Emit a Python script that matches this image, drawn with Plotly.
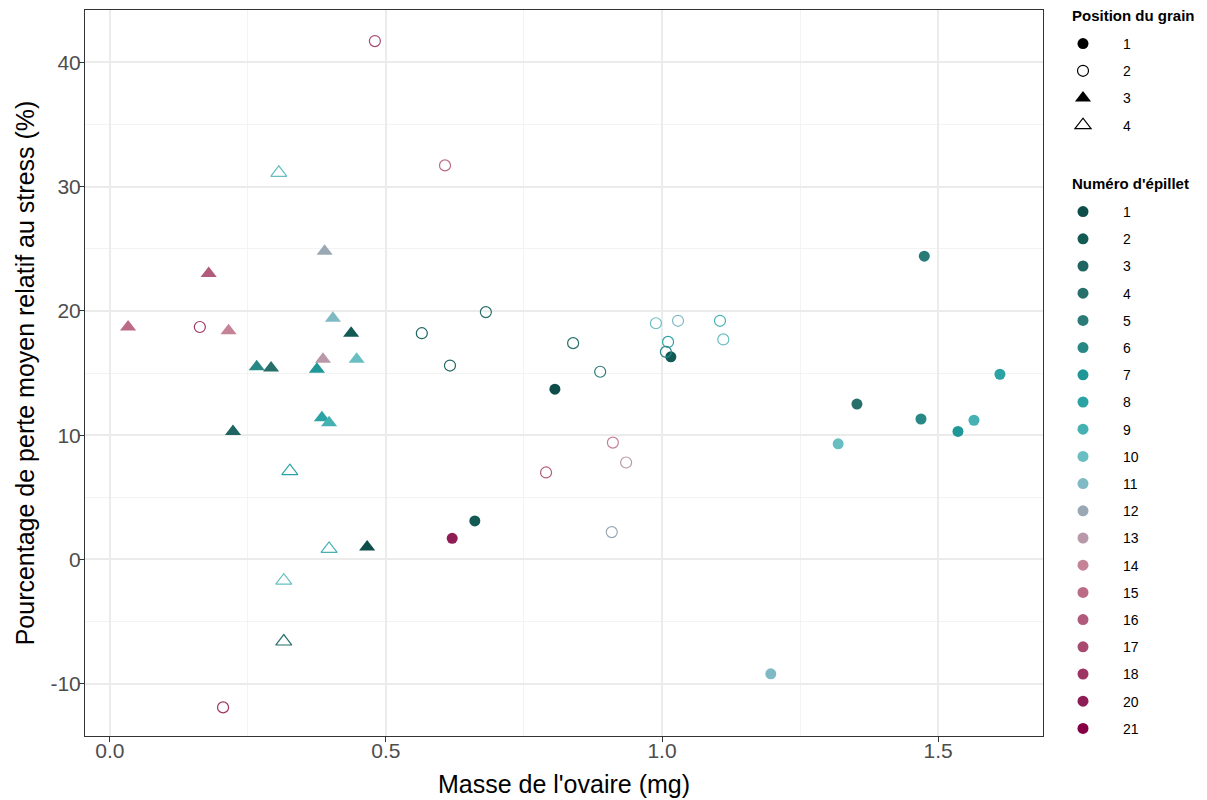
import plotly.graph_objects as go

# masse de l'ovaire (mg), perte relative (%), position du grain, numéro d'épillet
masse = [0.806, 1.016, 0.661, 0.620, 1.475, 1.353, 1.469, 1.536, 1.565, 1.612, 1.319, 1.197,
         0.839, 0.888, 0.681, 0.565, 0.616, 0.989, 1.029, 1.105, 1.111, 1.011, 1.007,
         0.911, 0.935, 0.790, 0.909, 0.607, 0.480, 0.205, 0.163,
         0.389, 0.179, 0.033, 0.215, 0.404, 0.437, 0.386, 0.447, 0.266, 0.292, 0.375,
         0.384, 0.397, 0.223, 0.466,
         0.306, 0.326, 0.397, 0.315, 0.315]
perte = [13.7, 16.3, 3.1, 1.7, 24.4, 12.5, 11.3, 10.3, 11.2, 14.9, 9.3, -9.2,
         17.4, 15.1, 19.9, 18.2, 15.6, 19.0, 19.2, 19.2, 17.7, 17.5, 16.7,
         9.4, 7.8, 7.0, 2.2, 31.7, 41.7, -11.9, 18.7,
         24.8, 23.0, 18.7, 18.4, 19.4, 18.2, 16.1, 16.1, 15.5, 15.4, 15.3,
         11.4, 11.0, 10.3, 1.0,
         31.1, 7.1, 0.85, -1.7, -6.6]
position = [1] * 12 + [2] * 19 + [3] * 15 + [4] * 5
epillet = [1, 2, 2, 20, 5, 4, 6, 7, 9, 8, 10, 11,
           4, 5, 4, 3, 3, 10, 11, 9, 10, 8, 6,
           14, 13, 16, 12, 15, 17, 18, 18,
           12, 16, 15, 14, 11, 2, 13, 10, 6, 4, 7,
           8, 9, 3, 1,
           10, 8, 9, 10, 4]

epillets = [1, 2, 3, 4, 5, 6, 7, 8, 9, 10, 11, 12, 13, 14, 15, 16, 17, 18, 20, 21]
couleurs = ["#0e4d4a", "#135a55", "#1e6461", "#276f6b", "#2a7a78", "#278886", "#1f9797",
            "#2ba3a5", "#46b1b3", "#68bec0", "#7fbac4", "#9aa8b5", "#b898a9", "#c58397",
            "#bc6b87", "#b15a7c", "#a84a70", "#9e3463", "#8f1d55", "#860046"]
col = dict(zip(epillets, couleurs))

symboles = {1: "circle", 2: "circle-open", 3: "triangle-up", 4: "triangle-up-open"}
tailles = {1: 11, 2: 11, 3: 14, 4: 14}

y_ticks = [-10, 0, 10, 20, 30, 40]
y_labels = ["-10", "0", "10", "20", "30", "40"]
x_ticks = [0.0, 0.5, 1.0, 1.5]
x_labels = ["0.0", "0.5", "1.0", "1.5"]

fig = go.Figure()

for p in [1, 2, 3, 4]:
    idx = [i for i in range(len(masse)) if position[i] == p]
    fig.add_trace(go.Scatter(
        x=[masse[i] for i in idx], y=[perte[i] for i in idx], mode="markers",
        marker=dict(symbol=symboles[p], size=tailles[p],
                    color=[col[epillet[i]] for i in idx],
                    line=dict(width=1.2 if p in (2, 4) else 0)),
        showlegend=False))

# legende 1 : position du grain
for p in [1, 2, 3, 4]:
    fig.add_trace(go.Scatter(
        x=[None], y=[None], mode="markers", name=str(p), legend="legend",
        legendgroup="p" + str(p),
        marker=dict(symbol=symboles[p], size=tailles[p], color="black",
                    line=dict(width=1.2 if p in (2, 4) else 0))))

# legende 2 : numero d'epillet
for e in epillets:
    fig.add_trace(go.Scatter(
        x=[None], y=[None], mode="markers", name=str(e), legend="legend2",
        legendgroup="e" + str(e),
        marker=dict(symbol="circle", size=11, color=col[e])))

leg_font = dict(family="Arial", size=14, color="black")
leg_common = dict(font=leg_font, xref="container", yref="container",
                  xanchor="left", yanchor="top", tracegroupgap=6,
                  itemwidth=70, maxheight=1, bgcolor="rgba(0,0,0,0)")
fig.update_layout(
    width=1207, height=800,
    margin=dict(l=77, r=172, t=2, b=72),
    plot_bgcolor="white", paper_bgcolor="white",
    font=dict(family="Arial"),
    legend=dict(x=1035 / 1207, y=1 - 20 / 800, **leg_common),
    legend2=dict(x=1035 / 1207, y=1 - 188 / 800, **leg_common),
)

# titres des legendes
pw = 1207 - 77 - 172
fig.add_annotation(text="<b>Position du grain</b>", xref="paper", yref="paper",
                   x=(1062 - 77) / pw, y=(728 - 7) / 726, xanchor="left", yanchor="middle",
                   showarrow=False, font=dict(family="Arial", size=15, color="black"))
fig.add_annotation(text="<b>Numéro d'épillet</b>", xref="paper", yref="paper",
                   x=(1062 - 77) / pw, y=(728 - 175) / 726, xanchor="left", yanchor="middle",
                   showarrow=False, font=dict(family="Arial", size=15, color="black"))

fig.update_xaxes(
    range=[-0.045, 1.69], tickvals=x_ticks, ticktext=x_labels, automargin=False,
    title=dict(text="Masse de l'ovaire (mg)", font=dict(size=25, color="black"), standoff=14),
    tickfont=dict(size=21, color="#4d4d4d"), ticklabelstandoff=-9,
    showgrid=True, gridcolor="#ebebeb", gridwidth=1.6,
    minor=dict(tickvals=[0.25, 0.75, 1.25], showgrid=True, gridcolor="#f3f3f3", gridwidth=0.8),
    ticks="outside", ticklen=5, tickcolor="#333333",
    showline=True, linecolor="#333333", linewidth=1, mirror=True, zeroline=False)
fig.update_yaxes(
    range=[-14.2, 44.2], tickvals=y_ticks, ticktext=y_labels, automargin=False,
    title=dict(text="Pourcentage de perte moyen relatif au stress (%)",
               font=dict(size=25, color="black"), standoff=8),
    tickfont=dict(size=21, color="#4d4d4d"), ticklabelstandoff=-6,
    showgrid=True, gridcolor="#ebebeb", gridwidth=1.6,
    minor=dict(tickvals=[-5, 5, 15, 25, 35], showgrid=True, gridcolor="#f3f3f3", gridwidth=0.8),
    ticks="outside", ticklen=5, tickcolor="#333333",
    showline=True, linecolor="#333333", linewidth=1, mirror=True, zeroline=False)

fig.write_html("out.html")
